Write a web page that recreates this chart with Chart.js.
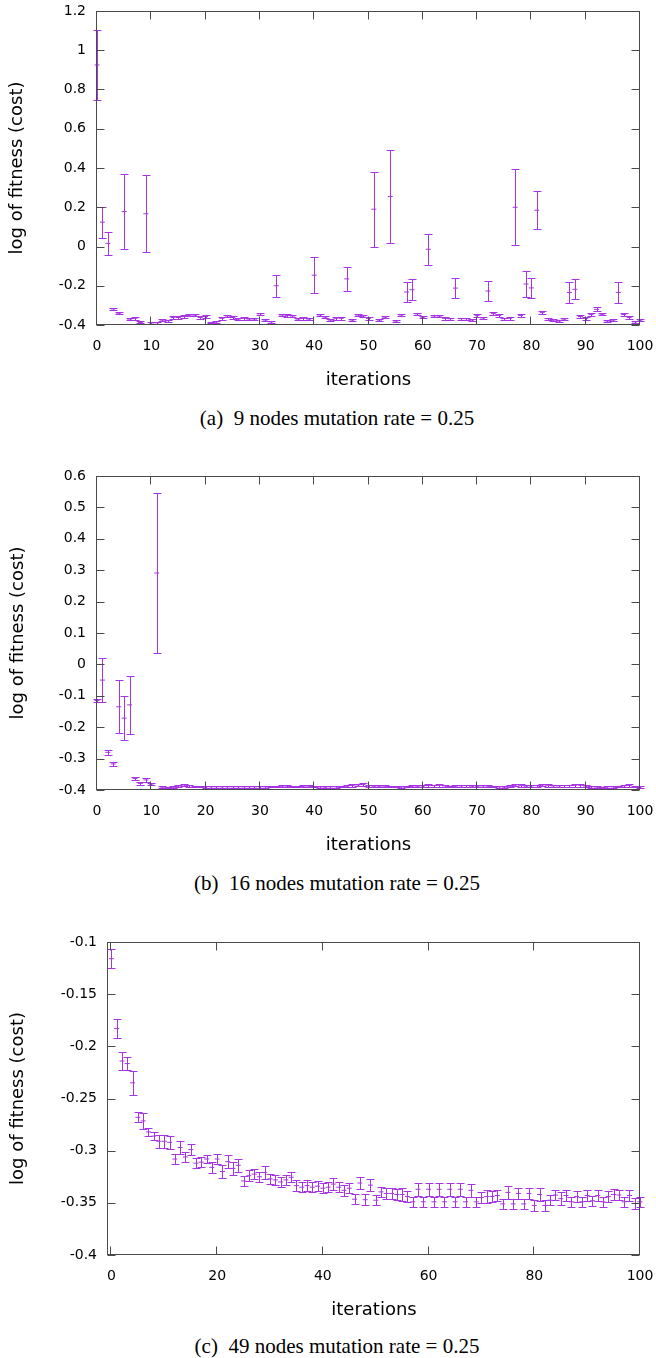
<!DOCTYPE html>
<html>
<head>
<meta charset="utf-8">
<script src="https://cdn.jsdelivr.net/npm/chart.js@4.4.1/dist/chart.umd.min.js"></script>
<style>
  html, body { margin:0; padding:0; background:#fff; }
  #wrap { position:relative; width:656px; height:1358px; background:#fff; overflow:hidden; }
  canvas { position:absolute; left:0; }
  .cap { position:absolute; left:0; width:674px; text-align:center; white-space:pre;
         font-family:"Liberation Serif","Times New Roman",serif; font-size:21px; line-height:22px; color:#000; }
</style>
</head>
<body>
<div id="wrap">
  <canvas id="ca" width="656" height="400" style="top:0px"></canvas>
  <div class="cap" style="top:407px">(a)  9 nodes mutation rate = 0.25</div>
  <canvas id="cb" width="656" height="400" style="top:460px"></canvas>
  <div class="cap" style="top:872px">(b)  16 nodes mutation rate = 0.25</div>
  <canvas id="cc" width="656" height="400" style="top:930px"></canvas>
  <div class="cap" style="top:1335px">(c)  49 nodes mutation rate = 0.25</div>
</div>
<script>
// ---------- data ----------
const iterations = [0,1,2,3,4,5,6,7,8,9,10,11,12,13,14,15,16,17,18,19,20,21,22,23,24,25,26,27,28,29,30,
  31,32,33,34,35,36,37,38,39,40,41,42,43,44,45,46,47,48,49,50,51,52,53,54,55,56,57,58,59,60,
  61,62,63,64,65,66,67,68,69,70,71,72,73,74,75,76,77,78,79,80,81,82,83,84,85,86,87,88,89,90,
  91,92,93,94,95,96,97,98,99,100];

const xTicksAB = [0,10,20,30,40,50,60,70,80,90,100];
const xTicksC  = [0,20,40,60,80,100];
const yTicksA  = [-0.4,-0.2,0,0.2,0.4,0.6,0.8,1,1.2];
const yTicksB  = [-0.4,-0.3,-0.2,-0.1,0,0.1,0.2,0.3,0.4,0.5,0.6];
const yTicksC  = [-0.4,-0.35,-0.3,-0.25,-0.2,-0.15,-0.1];

// (a) 9 nodes
const meanA = [0.925,0.124,0.016,-0.318,-0.34,0.178,-0.370,-0.366,-0.387,0.167,
  -0.39,-0.389,-0.375,-0.378,-0.362,-0.362,-0.357,-0.35,-0.35,-0.362,
  -0.357,-0.387,-0.384,-0.366,-0.354,-0.362,-0.370,-0.366,-0.370,-0.370,
  -0.343,-0.375,-0.384,-0.200,-0.349,-0.352,-0.354,-0.370,-0.366,-0.370,
  -0.146,-0.349,-0.360,-0.375,-0.366,-0.366,-0.165,-0.375,-0.349,-0.354,
  -0.366,0.190,-0.375,-0.360,0.255,-0.380,-0.349,-0.232,-0.220,-0.343,
  -0.360,-0.014,-0.354,-0.355,-0.366,-0.368,-0.212,-0.368,-0.368,-0.375,
  -0.351,-0.364,-0.227,-0.342,-0.351,-0.368,-0.366,0.200,-0.351,-0.191,
  -0.211,0.185,-0.337,-0.368,-0.375,-0.380,-0.370,-0.234,-0.218,-0.357,
  -0.366,-0.347,-0.320,-0.345,-0.380,-0.375,-0.234,-0.347,-0.362,-0.384,
  -0.375];
const errA = [0.178,0.079,0.059,0.006,0.006,0.19,0.006,0.006,0.005,0.197,
  0.004,0.004,0.006,0.005,0.006,0.006,0.006,0.006,0.006,0.006,
  0.006,0.004,0.004,0.006,0.006,0.006,0.006,0.006,0.006,0.006,
  0.006,0.005,0.004,0.055,0.006,0.006,0.006,0.006,0.006,0.006,
  0.09,0.006,0.006,0.005,0.006,0.006,0.063,0.005,0.006,0.006,
  0.006,0.19,0.005,0.006,0.238,0.005,0.006,0.053,0.053,0.006,
  0.006,0.08,0.006,0.006,0.006,0.006,0.052,0.006,0.006,0.005,
  0.006,0.006,0.051,0.006,0.006,0.006,0.006,0.193,0.006,0.065,
  0.051,0.097,0.006,0.006,0.005,0.005,0.006,0.053,0.051,0.006,
  0.006,0.006,0.01,0.006,0.005,0.005,0.053,0.006,0.006,0.004,
  0.005];

// (b) 16 nodes
const meanB = [-0.115,-0.050,-0.280,-0.317,-0.135,-0.171,-0.129,-0.363,-0.379,-0.368,
  -0.381,0.291,-0.391,-0.392,-0.390,-0.387,-0.384,-0.386,-0.389,-0.389,
  -0.390,-0.390,-0.390,-0.390,-0.390,-0.390,-0.390,-0.390,-0.390,-0.390,
  -0.390,-0.390,-0.389,-0.389,-0.388,-0.388,-0.389,-0.389,-0.388,-0.388,
  -0.389,-0.390,-0.391,-0.390,-0.390,-0.389,-0.388,-0.386,-0.384,-0.383,
  -0.386,-0.388,-0.388,-0.388,-0.389,-0.389,-0.390,-0.389,-0.388,-0.388,
  -0.387,-0.386,-0.386,-0.385,-0.387,-0.389,-0.388,-0.387,-0.386,-0.388,
  -0.388,-0.387,-0.388,-0.389,-0.390,-0.391,-0.388,-0.384,-0.385,-0.388,
  -0.387,-0.386,-0.384,-0.385,-0.387,-0.387,-0.386,-0.386,-0.385,-0.385,
  -0.387,-0.390,-0.391,-0.392,-0.390,-0.390,-0.389,-0.387,-0.386,-0.389,
  -0.390];
const errB = [0.005,0.070,0.0075,0.007,0.084,0.069,0.092,0.005,0.004,0.005,
  0.003,0.256,0.003,0.003,0.003,0.004,0.004,0.003,0.003,0.003,
  0.003,0.003,0.003,0.003,0.003,0.003,0.003,0.003,0.003,0.003,
  0.003,0.003,0.003,0.003,0.003,0.003,0.003,0.003,0.003,0.003,
  0.003,0.003,0.003,0.003,0.003,0.003,0.003,0.004,0.004,0.004,
  0.003,0.003,0.003,0.003,0.003,0.003,0.003,0.003,0.003,0.003,
  0.003,0.004,0.003,0.004,0.003,0.003,0.003,0.003,0.003,0.003,
  0.003,0.003,0.003,0.003,0.003,0.003,0.003,0.004,0.004,0.003,
  0.003,0.003,0.004,0.004,0.003,0.003,0.003,0.003,0.004,0.004,
  0.003,0.003,0.003,0.003,0.003,0.003,0.003,0.003,0.004,0.003,
  0.003];

// (c) 49 nodes
const meanC = [-0.116,-0.183,-0.214,-0.2165,-0.235,-0.268,-0.2715,-0.282,-0.286,-0.291,
  -0.291,-0.292,-0.308,-0.297,-0.306,-0.299,-0.312,-0.311,-0.308,-0.316,
  -0.308,-0.320,-0.3105,-0.317,-0.314,-0.329,-0.324,-0.3225,-0.325,-0.321,
  -0.327,-0.328,-0.330,-0.328,-0.3255,-0.3335,-0.335,-0.3335,-0.335,-0.334,
  -0.336,-0.335,-0.332,-0.335,-0.338,-0.336,-0.3465,-0.331,-0.347,-0.333,
  -0.3475,-0.3395,-0.341,-0.341,-0.342,-0.342,-0.344,-0.349,-0.337,-0.349,
  -0.337,-0.349,-0.337,-0.349,-0.337,-0.349,-0.337,-0.349,-0.338,-0.349,
  -0.345,-0.344,-0.344,-0.343,-0.351,-0.340,-0.351,-0.341,-0.351,-0.341,
  -0.3525,-0.342,-0.3525,-0.3475,-0.3425,-0.346,-0.343,-0.349,-0.344,-0.349,
  -0.343,-0.348,-0.343,-0.349,-0.344,-0.342,-0.3425,-0.349,-0.343,-0.3505,
  -0.349];
const errC = [0.009,0.0094,0.0085,0.006,0.0117,0.005,0.008,0.004,0.004,0.006,
  0.006,0.006,0.005,0.006,0.005,0.005,0.005,0.005,0.004,0.005,
  0.005,0.006,0.006,0.006,0.006,0.005,0.005,0.005,0.005,0.006,
  0.005,0.005,0.005,0.005,0.005,0.005,0.005,0.005,0.005,0.005,
  0.005,0.005,0.006,0.005,0.005,0.005,0.005,0.006,0.005,0.006,
  0.005,0.005,0.005,0.005,0.005,0.006,0.005,0.005,0.006,0.005,
  0.006,0.005,0.006,0.005,0.006,0.005,0.006,0.005,0.006,0.005,
  0.005,0.006,0.005,0.005,0.005,0.006,0.005,0.005,0.005,0.005,
  0.005,0.006,0.005,0.005,0.005,0.006,0.005,0.005,0.005,0.005,
  0.005,0.005,0.005,0.005,0.005,0.005,0.005,0.005,0.005,0.005,
  0.005];

// ---------- styling ----------
const PURPLE = 'rgb(166,52,226)';
const SANS = "'DejaVu Sans', sans-serif";

const errBars = {
  id: 'errBars',
  afterDatasetsDraw(chart) {
    const {ctx, scales: {x, y}} = chart;
    chart.data.datasets.forEach(ds => {
      ctx.save();
      ctx.strokeStyle = ds.borderColor;
      ctx.lineWidth = 1;
      ctx.beginPath();
      ds.data.forEach((p, i) => {
        const e = ds.errors[i];
        const px = Math.round(x.getPixelForValue(p.x)) + 0.5;
        const yt = Math.round(y.getPixelForValue(p.y + e)) + 0.5;
        const yb = Math.round(y.getPixelForValue(p.y - e)) + 0.5;
        ctx.moveTo(px, yt); ctx.lineTo(px, yb);
        ctx.moveTo(px - 4, yt); ctx.lineTo(px + 4, yt);
        ctx.moveTo(px - 4, yb); ctx.lineTo(px + 4, yb);
      });
      ctx.stroke();
      ctx.restore();
    });
  }
};

const frame = {
  id: 'gpFrame',
  afterDatasetsDraw(chart) {
    const {ctx, chartArea: a, scales: {x, y}} = chart;
    const L = Math.round(a.left) - 0.5, R = Math.round(a.right) - 0.5;
    const T = Math.round(a.top) + 0.5, B = Math.round(a.bottom) - 0.5;
    const tl = 8;
    ctx.save();
    ctx.strokeStyle = '#4a4a4a';
    ctx.lineWidth = 1;
    ctx.beginPath();
    x.ticks.forEach(t => {
      const px = Math.round(x.getPixelForValue(t.value)) - 0.5;
      ctx.moveTo(px, B); ctx.lineTo(px, B - tl);
      ctx.moveTo(px, T); ctx.lineTo(px, T + tl);
    });
    y.ticks.forEach(t => {
      const py = Math.round(y.getPixelForValue(t.value)) + 0.5;
      ctx.moveTo(L, py); ctx.lineTo(L + tl, py);
      ctx.moveTo(R, py); ctx.lineTo(R - tl, py);
    });
    ctx.stroke();
    ctx.strokeRect(L, T, R - L, B - T);
    ctx.restore();
  }
};

function makeChart(id, cfg) {
  const pts = iterations.map((it, i) => ({x: it, y: cfg.mean[i]}));
  return new Chart(document.getElementById(id), {
    type: 'scatter',
    data: {
      datasets: [{
        data: pts,
        errors: cfg.err,
        borderColor: PURPLE,
        backgroundColor: PURPLE,
        pointStyle: 'line',
        pointRadius: 2.5,
        pointBorderWidth: 1,
        pointHoverRadius: 2.5,
        showLine: false,
        clip: false
      }]
    },
    options: {
      responsive: false,
      animation: false,
      events: [],
      devicePixelRatio: 1,
      layout: { padding: { left: 0, right: 16, top: cfg.padTop, bottom: 0 } },
      plugins: { legend: { display: false }, tooltip: { enabled: false } },
      scales: {
        x: {
          type: 'linear',
          min: cfg.xMin, max: 100,
          afterBuildTicks: s => { s.ticks = cfg.xTicks.map(v => ({value: v})); },
          afterFit: s => { s.height = cfg.xHeight; },
          grid: { display: true, drawOnChartArea: false, drawTicks: true, tickLength: 11,
                  tickColor: 'rgba(0,0,0,0)', color: 'rgba(0,0,0,0)' },
          border: { display: false },
          ticks: { font: { family: SANS, size: 14 }, color: '#000', padding: 2,
                   maxRotation: 0, autoSkip: false, callback: v => String(v) },
          title: { display: true, text: 'iterations', color: '#000',
                   font: { family: SANS, size: 18 }, padding: { top: 0, bottom: cfg.xTitlePad } }
        },
        y: {
          type: 'linear',
          min: cfg.yTicks[0], max: cfg.yTicks[cfg.yTicks.length - 1],
          afterBuildTicks: s => { s.ticks = cfg.yTicks.map(v => ({value: v})); },
          afterFit: s => { s.width = cfg.yWidth; },
          grid: { display: true, drawOnChartArea: false, drawTicks: true, tickLength: 9,
                  tickColor: 'rgba(0,0,0,0)', color: 'rgba(0,0,0,0)' },
          border: { display: false },
          ticks: { font: { family: SANS, size: 14 }, color: '#000', padding: 2,
                   autoSkip: false, callback: v => String(v) },
          title: { display: true, text: 'log of fitness (cost)', color: '#000',
                   font: { family: SANS, size: 18 }, padding: { top: cfg.yTitlePad, bottom: 0 } }
        }
      }
    },
    plugins: [errBars, frame]
  });
}

makeChart('ca', { mean: meanA, err: errA, xTicks: xTicksAB, yTicks: yTicksA, xMin: 0,
  padTop: 11, xHeight: 75, xTitlePad: 9, yWidth: 97, yTitlePad: 7 });
makeChart('cb', { mean: meanB, err: errB, xTicks: xTicksAB, yTicks: yTicksB, xMin: 0,
  padTop: 16, xHeight: 70, xTitlePad: 4, yWidth: 97, yTitlePad: 8 });
makeChart('cc', { mean: meanC, err: errC, xTicks: xTicksC, yTicks: yTicksC, xMin: -0.65,
  padTop: 12, xHeight: 75, xTitlePad: 9, yWidth: 108, yTitlePad: 8 });
</script>
</body>
</html>
